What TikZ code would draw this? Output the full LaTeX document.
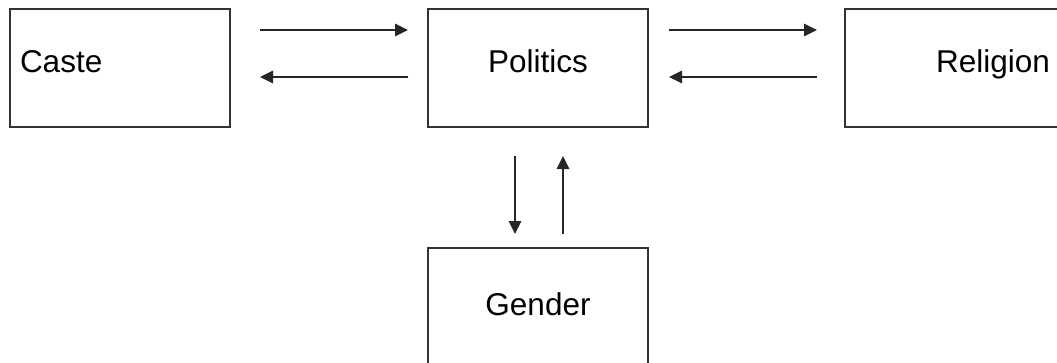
\documentclass[tikz,border=0pt]{standalone}
\usepackage{fontspec}
\setmainfont{Liberation Sans}
\usetikzlibrary{arrows.meta}
\begin{document}
\begin{tikzpicture}[x=1pt,y=-1pt,
  box/.style={draw=black!80,line width=1.3pt,minimum height=118pt,inner sep=0pt,
    font=\fontsize{31.5}{36}\selectfont,text height=22pt},
  link/.style={draw=black!85,line width=1.1pt,-{Triangle[length=13pt,width=12.5pt]}}]
\clip (0,0) rectangle (1057,362);
\useasboundingbox (0,0) rectangle (1057,362);
\node[box,text width=200pt,inner xsep=10pt,align=left,text depth=14pt] (caste) at (120,68) {Caste};
\node[box,minimum width=220pt,text depth=14pt] (politics) at (538,68) {Politics};
\node[box,text width=190pt,inner xsep=15pt,align=right,text depth=14pt] (religion) at (955,68) {Religion};
\node[box,minimum width=220pt,text depth=6pt] (gender) at (538,307) {Gender};
\coordinate (a1) at (260,30); \coordinate (a2) at (408,30);
\coordinate (b1) at (408,77); \coordinate (b2) at (260,77);
\coordinate (c1) at (669,30); \coordinate (c2) at (817,30);
\coordinate (d1) at (817,77); \coordinate (d2) at (669,77);
\coordinate (e1) at (515,156); \coordinate (e2) at (515,234);
\coordinate (f1) at (563,234); \coordinate (f2) at (563,156);
\draw[link] (a1) -- (a2);
\draw[link] (b1) -- (b2);
\draw[link] (c1) -- (c2);
\draw[link] (d1) -- (d2);
\draw[link] (e1) -- (e2);
\draw[link] (f1) -- (f2);
\end{tikzpicture}
\end{document}
